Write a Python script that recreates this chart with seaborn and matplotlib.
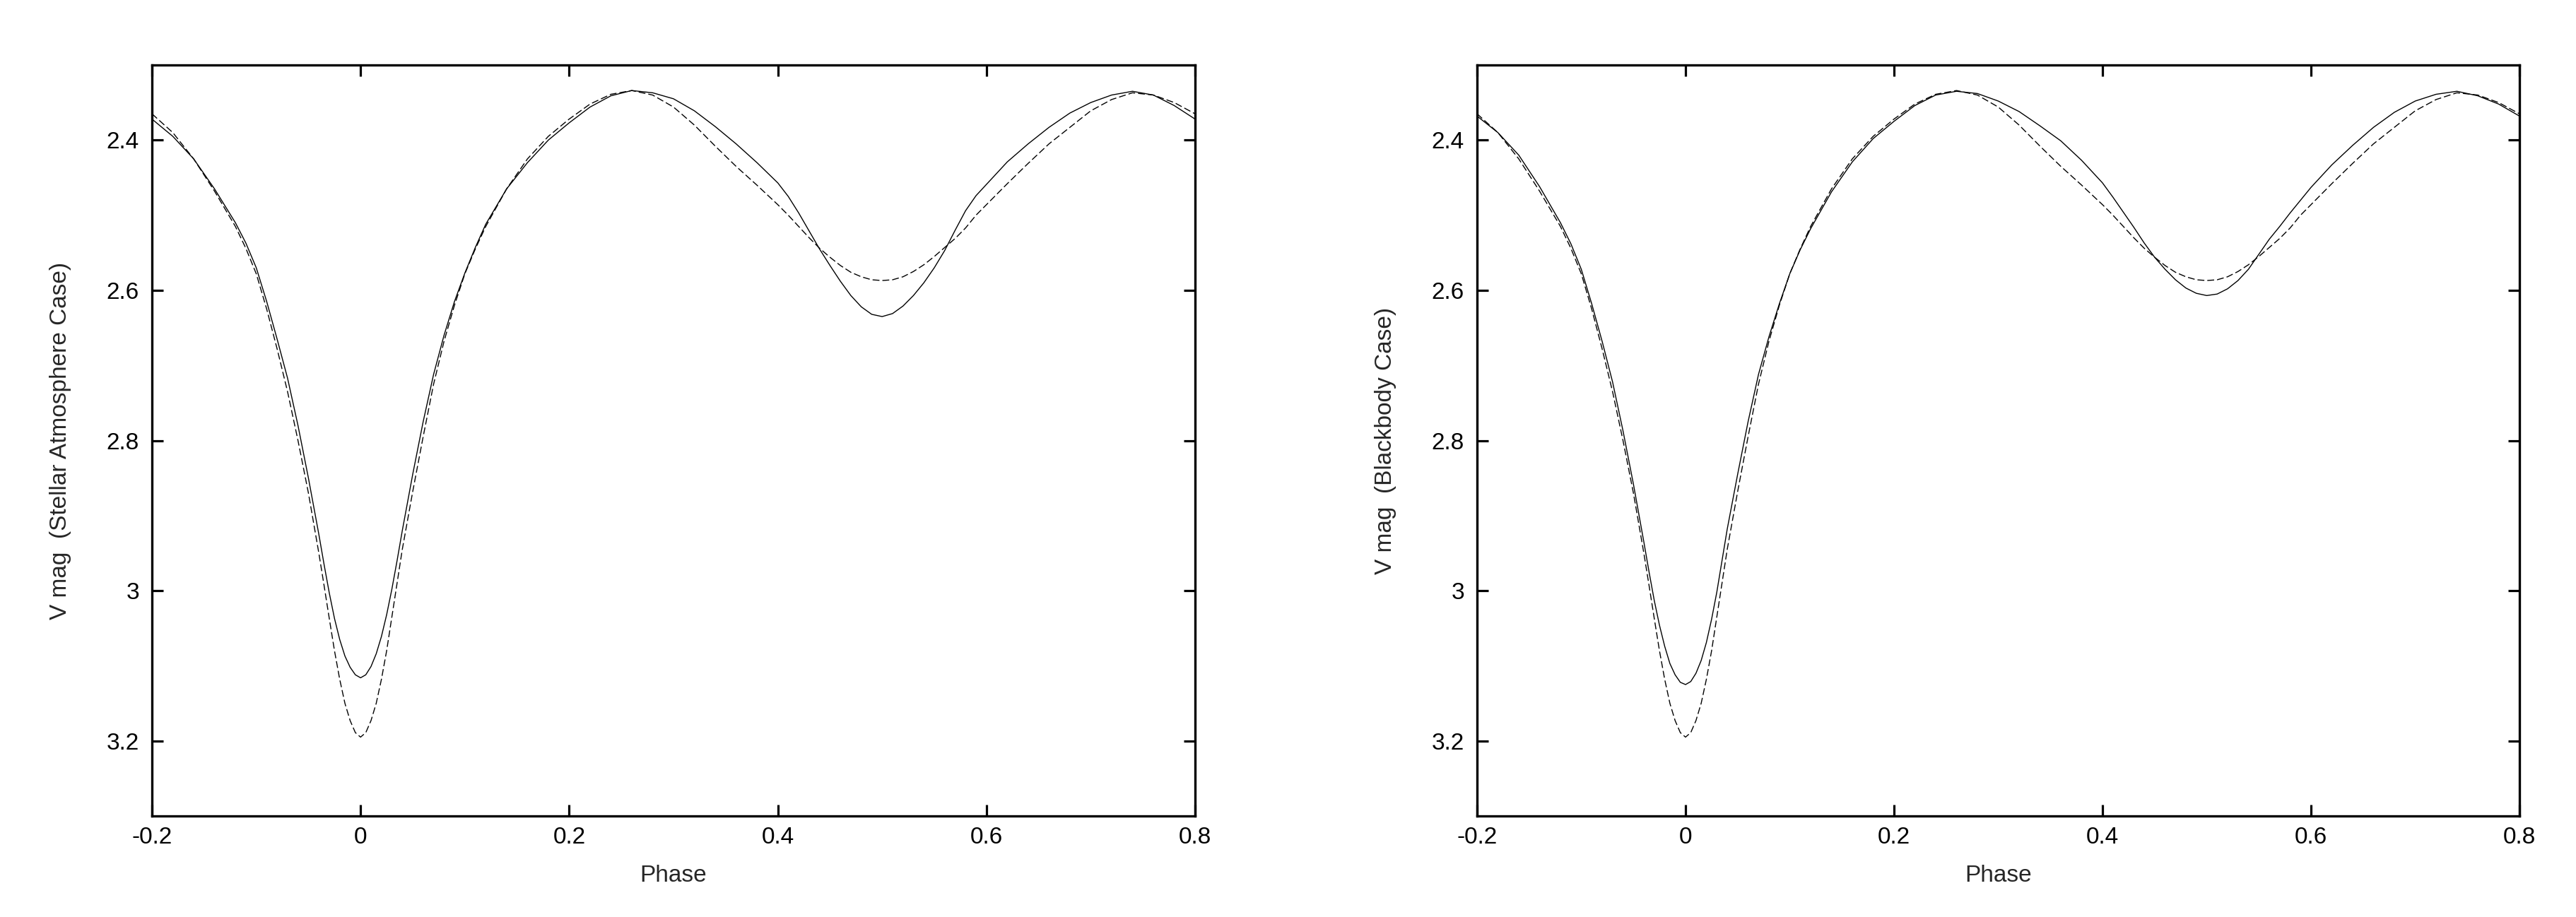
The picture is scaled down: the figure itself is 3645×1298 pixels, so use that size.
import numpy as np
import pandas as pd
import matplotlib
matplotlib.use("Agg")
import matplotlib.pyplot as plt
import seaborn as sns
from matplotlib.ticker import FormatStrFormatter

# Phase grid shared by all curves
phase = [-0.20, -0.18, -0.16, -0.14, -0.12, -0.11, -0.10, -0.09, -0.08, -0.07,
         -0.06, -0.05, -0.04, -0.035, -0.03, -0.025, -0.02, -0.015, -0.01, -0.005,
         0.0,
         0.005, 0.01, 0.015, 0.02, 0.025, 0.03, 0.035, 0.04,
         0.05, 0.06, 0.07, 0.08, 0.09, 0.10, 0.11, 0.12,
         0.14, 0.16, 0.18, 0.20, 0.22, 0.24, 0.26, 0.28, 0.30, 0.32, 0.34, 0.36, 0.38, 0.40,
         0.41, 0.42, 0.43, 0.44, 0.45, 0.46, 0.47, 0.48, 0.49, 0.50,
         0.51, 0.52, 0.53, 0.54, 0.55, 0.56, 0.57, 0.58, 0.59, 0.60,
         0.62, 0.64, 0.66, 0.68, 0.70, 0.72, 0.74, 0.76, 0.78, 0.80]

# solid curve, stellar atmosphere case
vmag_atm = [2.372, 2.395, 2.425, 2.465, 2.510, 2.537, 2.570, 2.615, 2.665, 2.717,
            2.780, 2.850, 2.925, 2.965, 3.003, 3.037, 3.065, 3.087, 3.102, 3.112,
            3.116,
            3.112, 3.101, 3.084, 3.061, 3.032, 2.998, 2.960, 2.920,
            2.845, 2.775, 2.712, 2.660, 2.615, 2.577, 2.543, 2.512,
            2.465, 2.430, 2.400, 2.377, 2.356, 2.341, 2.334, 2.337, 2.345, 2.361, 2.382, 2.405, 2.430, 2.457,
            2.475, 2.497, 2.521, 2.545, 2.567, 2.588, 2.607, 2.622, 2.632, 2.635,
            2.631, 2.621, 2.607, 2.590, 2.570, 2.547, 2.520, 2.494, 2.474, 2.459,
            2.429, 2.405, 2.383, 2.364, 2.350, 2.340, 2.335, 2.340, 2.354, 2.372]

# solid curve, blackbody case
vmag_bb = [2.368, 2.390, 2.420, 2.462, 2.510, 2.538, 2.572, 2.618, 2.668, 2.722,
           2.787, 2.858, 2.935, 2.975, 3.013, 3.046, 3.074, 3.097, 3.112, 3.122,
           3.125,
           3.121, 3.110, 3.093, 3.069, 3.038, 3.002, 2.960, 2.918,
           2.845, 2.775, 2.712, 2.662, 2.618, 2.578, 2.546, 2.518,
           2.469, 2.429, 2.398, 2.375, 2.354, 2.340, 2.335, 2.338, 2.348, 2.362, 2.381, 2.401, 2.427, 2.457,
           2.476, 2.496, 2.516, 2.537, 2.556, 2.572, 2.586, 2.597, 2.604, 2.607,
           2.605, 2.598, 2.587, 2.572, 2.552, 2.532, 2.515, 2.497, 2.480, 2.463,
           2.433, 2.407, 2.383, 2.363, 2.348, 2.339, 2.335, 2.341, 2.352, 2.368]

# dashed curve (same in both panels)
vmag_dashed = [2.365, 2.390, 2.425, 2.468, 2.515, 2.544, 2.578, 2.625, 2.678, 2.735,
               2.800, 2.870, 2.950, 2.993, 3.037, 3.080, 3.118, 3.150, 3.173, 3.189,
               3.195,
               3.189, 3.173, 3.150, 3.118, 3.080, 3.035, 2.990, 2.945,
               2.868, 2.795, 2.725, 2.668, 2.620, 2.578, 2.545, 2.515,
               2.465, 2.425, 2.395, 2.372, 2.352, 2.339, 2.334, 2.340, 2.356, 2.380, 2.408, 2.435, 2.460, 2.486,
               2.500, 2.515, 2.530, 2.544, 2.556, 2.567, 2.576, 2.582, 2.586, 2.587,
               2.586, 2.582, 2.575, 2.566, 2.555, 2.543, 2.531, 2.517, 2.500, 2.486,
               2.458, 2.431, 2.405, 2.383, 2.361, 2.346, 2.337, 2.340, 2.350, 2.365]

ylabels = ["V mag  (Stellar Atmosphere Case)", "V mag  (Blackbody Case)"]
xticks = [-0.2, 0, 0.2, 0.4, 0.6, 0.8]
yticks = [2.4, 2.6, 2.8, 3.0, 3.2]

df = pd.DataFrame({"phase": phase, "atm": vmag_atm, "bb": vmag_bb, "dashed": vmag_dashed})

sns.set_style("ticks")
plt.rcParams["font.family"] = ["Liberation Sans", "DejaVu Sans"]
plt.rcParams["axes.unicode_minus"] = False

fig = plt.figure(figsize=(36.45, 12.98), dpi=100)
ax1 = fig.add_axes([215 / 3645, 143 / 1298, 1476 / 3645, 1063 / 1298])
ax2 = fig.add_axes([2090 / 3645, 143 / 1298, 1475 / 3645, 1063 / 1298])

for ax, col, lab in [(ax1, "atm", ylabels[0]), (ax2, "bb", ylabels[1])]:
    sns.lineplot(data=df, x="phase", y=col, ax=ax, color="black", lw=1.0,
                 sort=False, estimator=None)
    sns.lineplot(data=df, x="phase", y="dashed", ax=ax, color="black", lw=1.0,
                 sort=False, estimator=None, linestyle="--")
    ax.lines[-1].set_dashes((7, 3))
    ax.set_xlim(-0.2, 0.8)
    ax.set_ylim(3.3, 2.3)
    ax.set_xticks(xticks)
    ax.set_yticks(yticks)
    ax.xaxis.set_major_formatter(FormatStrFormatter("%g"))
    ax.yaxis.set_major_formatter(FormatStrFormatter("%g"))
    ax.tick_params(direction="in", length=11.5, width=2.3, labelsize=24,
                   top=True, right=True, color="black", labelcolor="black")
    ax.tick_params(axis="x", pad=11)
    ax.tick_params(axis="y", pad=13)
    for s in ax.spines.values():
        s.set_linewidth(2.4)
        s.set_color("black")
    ax.set_xlabel("Phase", fontsize=24, labelpad=16)
    ax.set_ylabel(lab, fontsize=24, labelpad=36)

fig.savefig("out.png", dpi=100, facecolor="white")
